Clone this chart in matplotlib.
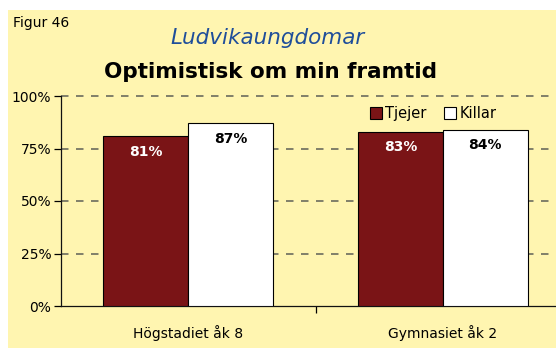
import matplotlib
matplotlib.use("Agg")
import matplotlib.pyplot as plt
import numpy as np

categories = ["Högstadiet åk 8", "Gymnasiet åk 2"]
tjejer = [81, 83]
killar = [87, 84]
series_names = ["Tjejer", "Killar"]
yticks = [0, 25, 50, 75, 100]
ytick_labels = ["0%", "25%", "50%", "75%", "100%"]

bg = "#FFF5B0"
red = "#7A1416"

W, H = 556, 348
fig = plt.figure(figsize=(W / 100, H / 100), dpi=100)
fig.patch.set_facecolor("white")

# yellow panel behind everything
bgax = fig.add_axes([8 / W, 0, 1 - 8 / W, 1 - 10 / H], zorder=-1)
bgax.set_facecolor(bg)
bgax.set_xticks([])
bgax.set_yticks([])
for s in bgax.spines.values():
    s.set_visible(False)

left, right = 61, 570
bottom, top = 306, 96
ax = fig.add_axes([left / W, 1 - bottom / H, (right - left) / W, (bottom - top) / H])
ax.set_facecolor("none")

x = np.arange(len(categories))
w = 1 / 3
b1 = ax.bar(x - w / 2, tjejer, w, color=red, edgecolor="black", linewidth=0.8,
            label=series_names[0], zorder=3)
b2 = ax.bar(x + w / 2, killar, w, color="white", edgecolor="black", linewidth=0.8,
            label=series_names[1], zorder=3)

for rect, v in zip(b1, tjejer):
    ax.text(rect.get_x() + rect.get_width() / 2, v - 7.5, f"{v}%", ha="center", va="center",
            color="white", fontsize=10, fontweight="bold", zorder=4)
for rect, v in zip(b2, killar):
    ax.text(rect.get_x() + rect.get_width() / 2, v - 7.5, f"{v}%", ha="center", va="center",
            color="black", fontsize=10, fontweight="bold", zorder=4)

ax.set_xlim(-0.5, 1.5)
ax.set_ylim(0, 100)
ax.set_yticks(yticks)
ax.set_yticklabels(ytick_labels, fontsize=10)
ax.set_xticks([0.5])
ax.set_xticklabels([""])
ax.tick_params(axis="y", length=5, width=0.9, pad=2)
ax.tick_params(axis="x", length=5, width=0.9, direction="out")
for i, c in enumerate(categories):
    ax.text(i, -13, c, ha="center", va="center", fontsize=10)

# dashed gridlines above the baseline only
ax.yaxis.grid(True, linestyle=(0, (4.5, 4.5)), color="#6b6b5e", linewidth=1.2, zorder=1)
for tick, val in zip(ax.yaxis.get_major_ticks(), yticks):
    tick.gridline.set_clip_on(False)
    if val == 0:
        tick.gridline.set_visible(False)

for s in ["top", "right"]:
    ax.spines[s].set_visible(False)
for s in ["left", "bottom"]:
    ax.spines[s].set_linewidth(0.9)
    ax.spines[s].set_color("#111111")

leg = ax.legend(loc="upper left", bbox_to_anchor=((364 - left) / (right - left), 0.98),
                ncol=2, frameon=False, fontsize=10.5, handlelength=0.8, handleheight=0.8,
                handletextpad=0.25, columnspacing=1.2, borderaxespad=0)

fig.text(13 / W, 1 - 23 / H, "Figur 46", fontsize=10, ha="left", va="center")
fig.text(268 / W, 1 - 38 / H, "Ludvikaungdomar", fontsize=15.5, style="italic",
         color="#1F4E9A", ha="center", va="center")
fig.text(271 / W, 1 - 72 / H, "Optimistisk om min framtid", fontsize=15.5,
         fontweight="bold", ha="center", va="center")

fig.savefig("out.png", dpi=100, facecolor=fig.get_facecolor())
